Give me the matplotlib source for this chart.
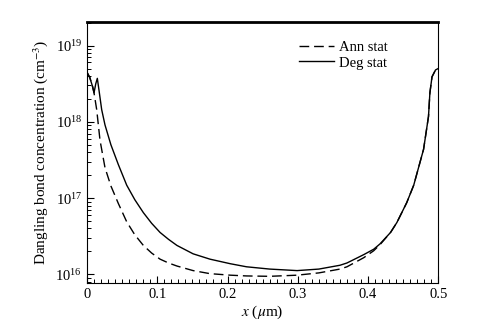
import numpy as np
import matplotlib
matplotlib.use('Agg')
import matplotlib.pyplot as plt
from matplotlib.ticker import LogLocator, MultipleLocator, NullFormatter

plt.rcParams['font.family'] = ['Liberation Serif', 'DejaVu Serif']
plt.rcParams['mathtext.fontset'] = 'stix'

## data (x in um, log10 of concentration in cm^-3)
# Deg stat (solid)
x_deg = [0, 0.004, 0.008, 0.010, 0.0125, 0.0147, 0.017, 0.0209, 0.0256, 0.034,
         0.0446, 0.0565, 0.068, 0.0802, 0.092, 0.104, 0.116, 0.128, 0.151, 0.175,
         0.204, 0.227, 0.26, 0.299, 0.33, 0.36, 0.37, 0.394, 0.408, 0.417,
         0.432, 0.441, 0.455, 0.465, 0.479, 0.486, 0.488, 0.491, 0.496, 0.5]
log_deg = [18.65, 18.58, 18.46, 18.38, 18.50, 18.57, 18.42, 18.16, 17.96, 17.70,
           17.44, 17.17, 16.98, 16.81, 16.67, 16.55, 16.46, 16.38, 16.27, 16.20,
           16.14, 16.10, 16.07, 16.05, 16.07, 16.12, 16.15, 16.26, 16.33, 16.40,
           16.55, 16.68, 16.94, 17.17, 17.64, 18.07, 18.38, 18.59, 18.68, 18.70]

# Ann stat (dashed)
x_ann = [0, 0.004, 0.008, 0.010, 0.0138, 0.0185, 0.0256, 0.034, 0.0446, 0.0565,
         0.068, 0.0802, 0.092, 0.104, 0.116, 0.128, 0.151, 0.175, 0.204, 0.227,
         0.26, 0.299, 0.33, 0.36, 0.37, 0.394, 0.408, 0.417, 0.432, 0.441,
         0.455, 0.465, 0.479, 0.486, 0.488, 0.491, 0.496, 0.5]
log_ann = [18.65, 18.58, 18.46, 18.38, 18.16, 17.76, 17.40, 17.16, 16.93, 16.69,
           16.52, 16.38, 16.28, 16.20, 16.15, 16.11, 16.05, 16.01, 15.99, 15.98,
           15.975, 15.99, 16.02, 16.07, 16.10, 16.22, 16.31, 16.39, 16.55, 16.68,
           16.94, 17.17, 17.64, 18.07, 18.38, 18.59, 18.68, 18.70]

c_deg = 10 ** np.array(log_deg)
c_ann = 10 ** np.array(log_ann)

fig = plt.figure(figsize=(4.78, 3.35), dpi=100)
ax = fig.add_axes([0.182, 0.155, 0.735, 0.78])

ax.plot(x_ann, c_ann, color='black', lw=1.0, dashes=(7, 3.5), label='Ann stat')
ax.plot(x_deg, c_deg, color='black', lw=1.0, label='Deg stat')

ax.set_yscale('log')
ax.set_xlim(0, 0.5)
ax.set_ylim(7.7e15, 2.05e19)

ax.set_xticks([0, 0.1, 0.2, 0.3, 0.4, 0.5])
ax.set_xticklabels(['0', '0.1', '0.2', '0.3', '0.4', '0.5'])
ax.xaxis.set_minor_locator(MultipleLocator(0.01))
ax.yaxis.set_major_locator(LogLocator(base=10, numticks=10))
ax.yaxis.set_minor_locator(LogLocator(base=10, subs=np.arange(2, 10), numticks=20))
ax.yaxis.set_minor_formatter(NullFormatter())

ax.tick_params(which='both', direction='in', top=False, right=False, labelsize=10.5)
ax.tick_params(which='major', length=5, width=0.8)
ax.tick_params(which='minor', length=3, width=0.7)

for s in ['left', 'bottom', 'right']:
    ax.spines[s].set_linewidth(0.8)
ax.spines['top'].set_linewidth(2.0)

ax.set_xlabel('$x$ ($\\mu$m)', fontsize=11, labelpad=2)
ax.set_ylabel('Dangling bond concentration (cm$^{-3}$)', fontsize=11, labelpad=4)

ax.legend(loc='upper right', bbox_to_anchor=(0.874, 0.949), frameon=False,
          fontsize=10.5, handlelength=2.4, handletextpad=0.4, labelspacing=0.15,
          borderaxespad=0)

fig.savefig('out.png', dpi=100)
